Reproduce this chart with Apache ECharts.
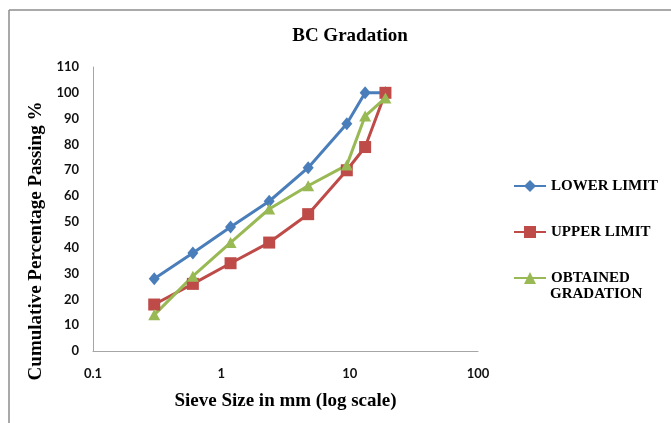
<!DOCTYPE html>
<html>
<head>
<meta charset="utf-8">
<script src="https://cdn.jsdelivr.net/npm/echarts@6/dist/echarts.min.js"></script>
<style>
  html, body { margin: 0; padding: 0; background: #fff; }
  #main { width: 671px; height: 423px; }
</style>
</head>
<body>
<div id="main"></div>
<script>
// sieve sizes (mm) and % passing
var sieveSizes = [0.3, 0.6, 1.18, 2.36, 4.75, 9.5, 13.2, 19];
var lowerLimit = [28, 38, 48, 58, 71, 88, 100, 100];
var upperLimit = [18, 26, 34, 42, 53, 70, 79, 100];
var obtained = [14, 29, 42, 55, 64, 72, 91, 98];
var seriesNames = ['LOWER LIMIT', 'UPPER LIMIT', 'OBTAINED'];

function pairs(ys) {
  var out = [];
  for (var i = 0; i < sieveSizes.length; i++) out.push([sieveSizes[i], ys[i]]);
  return out;
}

var serif = '"Liberation Serif", "Times New Roman", serif';
var sans = 'Lato, "Open Sans", sans-serif';

var chart = echarts.init(document.getElementById('main'), null, { renderer: 'canvas' });

var option = {
  backgroundColor: '#fff',
  animation: false,
  title: {
    text: 'BC Gradation',
    left: 345,
    top: 22,
    textAlign: 'center',
    textStyle: { fontFamily: serif, fontWeight: 'bold', fontSize: 19, color: '#000' }
  },
  grid: { left: 93, right: 193, top: 67, bottom: 72, containLabel: false },
  legend: {
    orient: 'vertical',
    left: 508,
    top: 173,
    itemWidth: 32,
    itemHeight: 15,
    itemGap: 30,
    data: seriesNames,
    textStyle: { fontFamily: serif, fontWeight: 'bold', fontSize: 15, color: '#000', lineHeight: 16 }
  },
  xAxis: {
    type: 'log',
    logBase: 10,
    min: 0.1,
    max: 100,
    name: 'Sieve Size in mm (log scale)',
    nameLocation: 'middle',
    nameGap: 41,
    nameTextStyle: { fontFamily: serif, fontWeight: 'bold', fontSize: 19, color: '#000' },
    axisLine: { lineStyle: { color: '#a6a6a6', width: 1 } },
    axisTick: { show: false },
    splitLine: { show: false },
    axisLabel: {
      margin: 16,
      fontFamily: sans, fontWeight: 'bold', fontSize: 13, color: '#111',
      formatter: function (v) { return String(v); }
    }
  },
  yAxis: {
    type: 'value',
    min: 0,
    max: 110,
    interval: 10,
    name: 'Cumulative Percentage Passing %',
    nameLocation: 'middle',
    nameGap: 36,
    nameTextStyle: { fontFamily: serif, fontWeight: 'bold', fontSize: 19, color: '#000', padding: [0, 64, 0, 0] },
    axisLine: { show: true, lineStyle: { color: '#a6a6a6', width: 1 } },
    axisTick: { show: false },
    splitLine: { show: false },
    axisLabel: { margin: 14, fontFamily: sans, fontWeight: 'bold', fontSize: 13, color: '#111' }
  },
  series: [
    {
      name: seriesNames[0], type: 'line', data: pairs(lowerLimit),
      symbol: 'diamond', symbolSize: [11, 13],
      lineStyle: { color: '#4a7ebb', width: 3 },
      itemStyle: { color: '#4a7ebb' }
    },
    {
      name: seriesNames[1], type: 'line', data: pairs(upperLimit),
      symbol: 'rect', symbolSize: 12,
      lineStyle: { color: '#be4b48', width: 3 },
      itemStyle: { color: '#be4b48' }
    },
    {
      name: seriesNames[2], type: 'line', data: pairs(obtained),
      symbol: 'triangle', symbolSize: [12, 11],
      lineStyle: { color: '#98b954', width: 3 },
      itemStyle: { color: '#98b954' }
    }
  ],
  graphic: [
    // outer frame of the picture (top and left edges only)
    { type: 'line', shape: { x1: 9, y1: 10, x2: 671, y2: 10 }, style: { stroke: '#8c8c8c', lineWidth: 1.5 } },
    { type: 'line', shape: { x1: 9, y1: 10, x2: 9, y2: 423 }, style: { stroke: '#8c8c8c', lineWidth: 1.5 } },
    // second line of the third legend entry
    {
      type: 'text', left: 550, top: 287,
      style: { text: 'GRADATION', fontFamily: serif, fontWeight: 'bold', fontSize: 15, fill: '#000' }
    }
  ]
};

chart.setOption(option);
</script>
</body>
</html>
